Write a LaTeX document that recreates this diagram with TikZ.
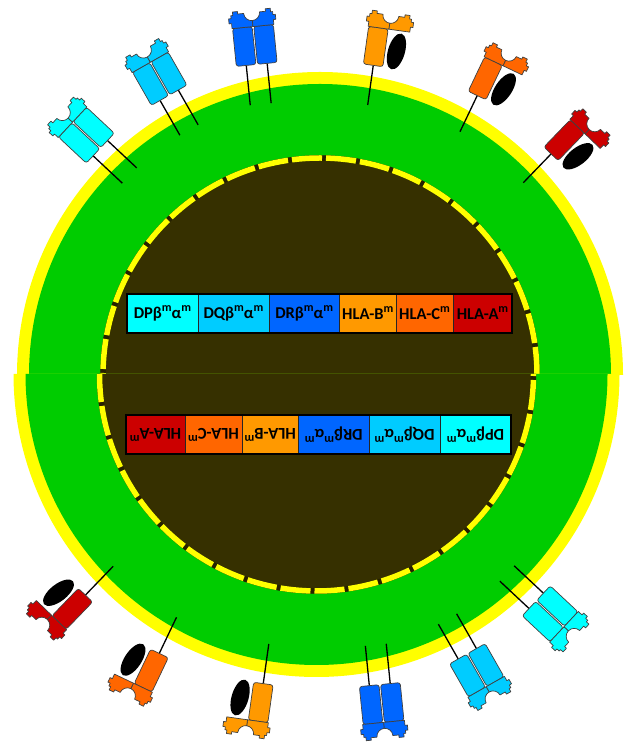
\documentclass[tikz,border=0pt]{standalone}
\usepackage{fontspec}
\setmainfont{Carlito}
\definecolor{membrane}{RGB}{255,255,0}
\definecolor{cytoplasm}{RGB}{0,204,0}
\definecolor{nucleoplasm}{RGB}{54,48,0}
\definecolor{poregap}{RGB}{38,33,0}
\definecolor{dpcol}{RGB}{0,255,255}
\definecolor{dqcol}{RGB}{0,204,255}
\definecolor{drcol}{RGB}{0,102,255}
\definecolor{hlabcol}{RGB}{255,153,0}
\definecolor{hlaccol}{RGB}{255,102,0}
\definecolor{hlaacol}{RGB}{204,0,0}

\tikzset{
  stem/.style={draw=black, line width=1.3pt},
  chain/.style={draw=black!75, line width=0.7pt, line join=round},
  domain/.style={chain,fill=#1,rounded corners=2.5pt},
  headpart/.style={chain,fill=#1},
  cellbox/.style={draw=black!85, line width=0.8pt, minimum height=39pt, inner sep=0pt,
    outer sep=0pt, font=\bfseries\fontsize{16.5pt}{18pt}\selectfont, text=black},
}

% large superscript m used in the gene labels
\newcommand\supm{\raisebox{0.42em}{\fontsize{12pt}{13pt}\selectfont m}}

% peptide-binding head: two half blocks with a groove between them
\newcommand\mhchead[1]{%
  \draw[headpart=#1] (0,78) -- (-21,78) -- (-21,83) -- (-23.5,83) -- (-23.5,88) -- (-21,88)
    -- (-21,91) -- (-19,91) -- (-19,94.5) -- (-14,94.5) -- (-14,92) -- (-8,92)
    arc[start angle=180,end angle=270,radius=8pt] -- cycle;
  \draw[headpart=#1] (0,78) -- (21,78) -- (21,83) -- (23.5,83) -- (23.5,88) -- (21,88)
    -- (21,91) -- (19,91) -- (19,94.5) -- (14,94.5) -- (14,92) -- (8,92)
    arc[start angle=0,end angle=-90,radius=8pt] -- cycle;}

% class II molecule: two chains, two anchors; #1 anchor, #2 rotation, #3 colour
\newcommand\mhcii[3]{%
  \begin{scope}[shift={(#1)},rotate=#2]
    \draw[stem] (-10.5,0) -- (-10.5,40);
    \draw[stem] (10.5,0) -- (10.5,40);
    \draw[domain=#3] (-20.5,40) rectangle (-0.8,78);
    \draw[domain=#3] (0.8,40) rectangle (20.5,78);
    \mhchead{#3}
  \end{scope}}

% class I molecule: heavy chain plus beta-2 microglobulin; #1 anchor of the stem
\newcommand\mhci[3]{%
  \begin{scope}[shift={(#1)},rotate=#2,xshift=10.5pt]
    \draw[stem] (-10.5,0) -- (-10.5,40);
    \fill[black,rotate around={-8:(10.5,57)}] (10.5,57) ellipse[x radius=8.5pt,y radius=18.5pt];
    \draw[domain=#3] (-20.5,40) rectangle (-0.8,78);
    \mhchead{#3}
  \end{scope}}

% one half of the cell, flat side on the local x axis
\newcommand\cellhalf{%
  \fill[membrane] (303,0) arc[start angle=0,end angle=180,radius=303pt] -- cycle;
  \fill[cytoplasm] (291,0) arc[start angle=0,end angle=180,radius=291pt] -- cycle;
  \fill[nucleoplasm] (219.5,0) arc[start angle=0,end angle=180,radius=219.5pt] -- cycle;
  \draw[poregap, line width=5.5pt] (217,0) arc[start angle=0,end angle=180,radius=217pt];
  \draw[membrane, line width=5.5pt, dash pattern=on 30.09pt off 4pt, dash phase=2pt]
    (217,0) arc[start angle=0,end angle=180,radius=217pt];
  \mhcii{-190.5,199.5}{46.9}{dpcol}
  \mhcii{-131,245}{29.7}{dqcol}
  \mhcii{-59.3,270.8}{5.7}{drcol}
  \mhci{47.7,270}{-8}{hlabcol}
  \mhci{140,243.3}{-25.5}{hlaccol}
  \mhci{203.3,192.3}{-44}{hlaacol}
}

% gene bar: #1 node name prefix
\newcommand\hlabar[1]{%
  \node[cellbox,fill=dpcol,minimum width=71pt,anchor=south west] (#1dp) at (0,0) {DPβ\supm α\supm};
  \node[cellbox,fill=dqcol,minimum width=71pt,anchor=west] (#1dq) at (#1dp.east) {DQβ\supm α\supm};
  \node[cellbox,fill=drcol,minimum width=70.5pt,anchor=west] (#1dr) at (#1dq.east) {DRβ\supm α\supm};
  \node[cellbox,fill=hlabcol,minimum width=56.5pt,anchor=west] (#1b) at (#1dr.east) {HLA-B\supm};
  \node[cellbox,fill=hlaccol,minimum width=57pt,anchor=west] (#1c) at (#1b.east) {HLA-C\supm};
  \node[cellbox,fill=hlaacol,minimum width=59pt,anchor=west] (#1a) at (#1c.east) {HLA-A\supm};
  \draw[black, line width=1.6pt] (#1dp.south west) rectangle (#1a.north east);
}

\begin{document}
\begin{tikzpicture}[x=1pt,y=1pt]
  \fill[white] (0,0) rectangle (625,744);
  \useasboundingbox (0,0) rectangle (625,744);
  \begin{scope}[shift={(320,369)}]
    \cellhalf
  \end{scope}
  \begin{scope}[shift={(316.5,370)},rotate=180]
    \cellhalf
  \end{scope}
  \begin{scope}[shift={(127,411)}]
    \hlabar{t}
  \end{scope}
  \begin{scope}[shift={(511,329)},rotate=180,transform shape]
    \hlabar{b}
  \end{scope}
\end{tikzpicture}
\end{document}
